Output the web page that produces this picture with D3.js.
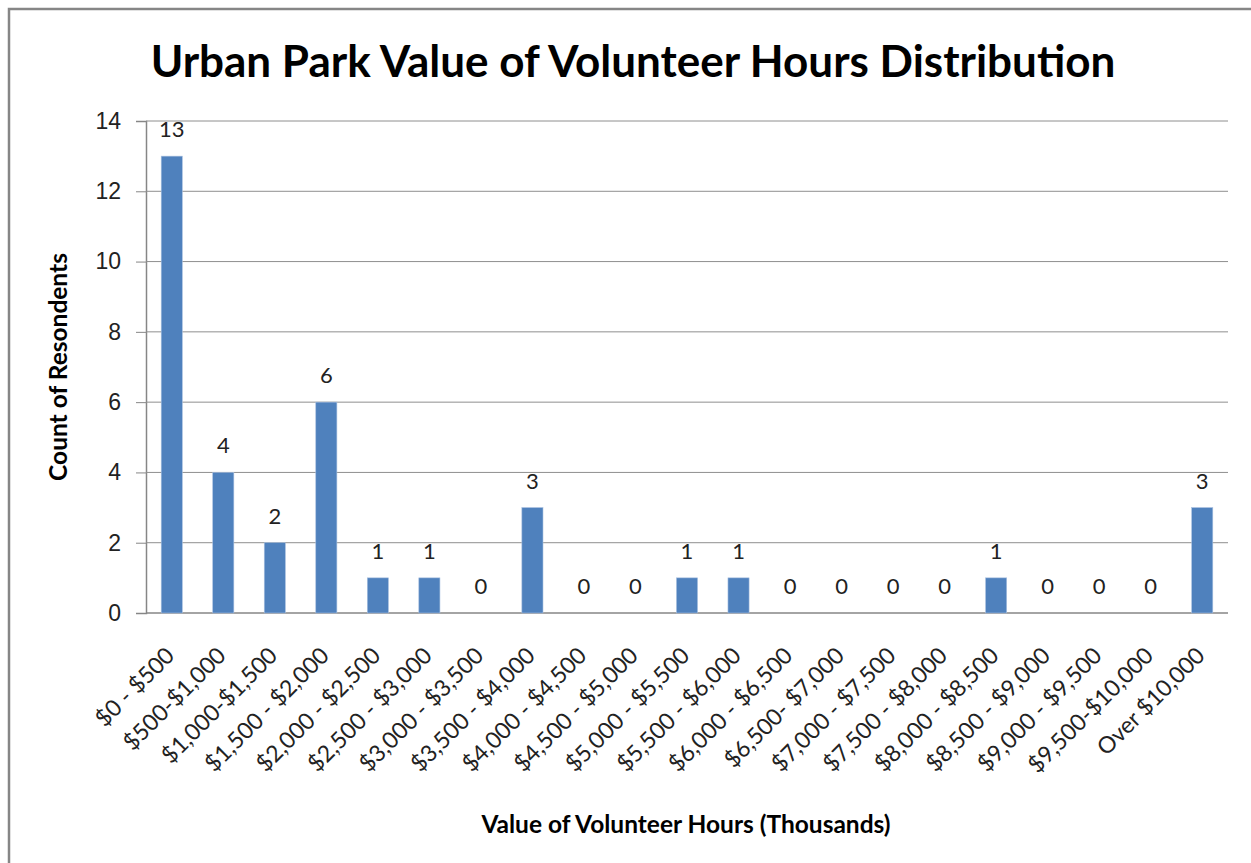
<!DOCTYPE html>
<html>
<head>
<meta charset="utf-8">
<script src="https://cdnjs.cloudflare.com/ajax/libs/d3/7.8.5/d3.min.js"></script>
<style>
  body { margin: 0; background: #fff; }
  svg { display: block; font-family: Lato, "Open Sans", sans-serif; }
</style>
</head>
<body>
<svg></svg>
<script>
// data
var categories = ["$0 - $500", "$500-$1,000", "$1,000-$1,500", "$1,500 - $2,000", "$2,000 - $2,500",
  "$2,500 - $3,000", "$3,000 - $3,500", "$3,500 - $4,000", "$4,000 - $4,500", "$4,500 - $5,000",
  "$5,000 - $5,500", "$5,500 - $6,000", "$6,000 - $6,500", "$6,500- $7,000", "$7,000 - $7,500",
  "$7,500 - $8,000", "$8,000 - $8,500", "$8,500 - $9,000", "$9,000 - $9,500", "$9,500-$10,000",
  "Over $10,000"];
var counts = [13, 4, 2, 6, 1, 1, 0, 3, 0, 0, 1, 1, 0, 0, 0, 0, 1, 0, 0, 0, 3];
var yTicks = [0, 2, 4, 6, 8, 10, 12, 14];

var svg = d3.select("svg"),
    W = 1251, H = 863,
    margin = {top: 121, right: 23, bottom: 250, left: 146},
    width = W - margin.left - margin.right,
    height = H - margin.top - margin.bottom;

svg.attr("width", W).attr("height", H);

// outer chart border (runs off the right/bottom edge like the screenshot)
svg.append("rect")
    .attr("x", 9).attr("y", 9)
    .attr("width", W + 20).attr("height", H + 20)
    .attr("fill", "#fff")
    .attr("stroke", "#868686")
    .attr("stroke-width", 2.5);

// title
svg.append("text")
    .attr("x", 633).attr("y", 77)
    .attr("text-anchor", "middle")
    .style("font-size", "44px")
    .style("font-weight", "bold")
    .text("Urban Park Value of Volunteer Hours Distribution");

var g = svg.append("g")
    .attr("transform", "translate(" + margin.left + "," + margin.top + ")");

// scales
var x = d3.scaleBand().domain(categories).range([0, width]).paddingInner(0.59).paddingOuter(0.295);
var y = d3.scaleLinear().domain([0, 14]).range([height, 0]);

// gridlines + y axis
var yAxis = d3.axisLeft(y).tickValues(yTicks).tickSize(10).tickPadding(15);
var yAxisEl = g.append("g").attr("class", "y axis").call(yAxis);
yAxisEl.select(".domain").attr("stroke", "#868686").attr("stroke-width", 1.5);
yAxisEl.selectAll(".tick line").attr("stroke", "#868686");
yAxisEl.selectAll(".tick text")
    .style("font-size", "23px")
    .attr("fill", "#222");

g.append("g")
    .attr("class", "grid")
    .selectAll("line")
    .data(yTicks)
  .enter().append("line")
    .attr("x1", 0).attr("x2", width)
    .attr("y1", function(d) { return y(d); })
    .attr("y2", function(d) { return y(d); })
    .attr("stroke", function(d) { return d === 0 ? "#868686" : "#8e8e8e"; })
    .attr("stroke-width", function(d) { return d === 0 ? 1.5 : 1; });

// bars
g.selectAll(".bar")
    .data(counts)
  .enter().append("rect")
    .attr("class", "bar")
    .attr("x", function(d, i) { return x(categories[i]); })
    .attr("width", x.bandwidth())
    .attr("y", function(d) { return y(d); })
    .attr("height", function(d) { return height - y(d); })
    .attr("fill", "#4f81bd")
    .attr("stroke", "#a9c0e0")
    .attr("stroke-width", 0.6);

// value labels
g.selectAll(".val")
    .data(counts)
  .enter().append("text")
    .attr("class", "val")
    .attr("x", function(d, i) { return x(categories[i]) + x.bandwidth() / 2; })
    .attr("y", function(d) { return y(d) - 19; })
    .attr("text-anchor", "middle")
    .style("font-size", "22px")
    .attr("fill", "#222")
    .text(function(d) { return d; });

// x category labels, rotated
g.selectAll(".xlab")
    .data(categories)
  .enter().append("text")
    .attr("class", "xlab")
    .attr("transform", function(d) {
      var cx = x(d) + x.bandwidth() / 2 + 4;
      return "translate(" + cx + "," + (height + 44) + ") rotate(-45)";
    })
    .attr("text-anchor", "end")
    .style("font-size", "23px")
    .attr("fill", "#222")
    .text(function(d) { return d; });

// axis titles
svg.append("text")
    .attr("x", 686).attr("y", 833)
    .attr("text-anchor", "middle")
    .style("font-size", "24.5px")
    .style("font-weight", "bold")
    .text("Value of Volunteer Hours (Thousands)");

svg.append("text")
    .attr("transform", "translate(67,367) rotate(-90)")
    .attr("text-anchor", "middle")
    .style("font-size", "24.5px")
    .style("font-weight", "bold")
    .text("Count of Resondents");
</script>
</body>
</html>
